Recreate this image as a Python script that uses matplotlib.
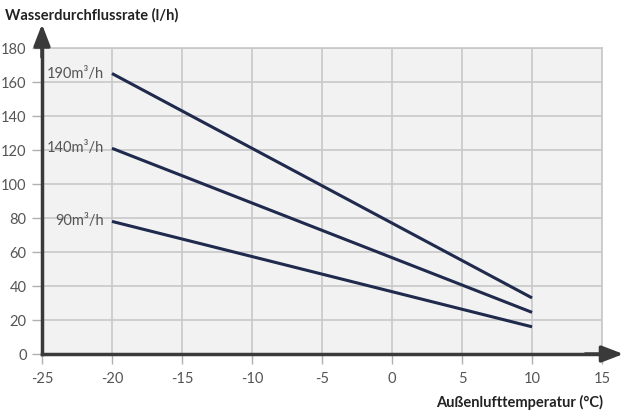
import matplotlib.pyplot as plt

# data
temps = [-20, 10]
flow_190 = [165, 33]
flow_140 = [121, 24.5]
flow_90 = [78, 16]
series_labels = ["190m³/h", "140m³/h", "90m³/h"]
x_ticks = [-25, -20, -15, -10, -5, 0, 5, 10, 15]
y_ticks = [0, 20, 40, 60, 80, 100, 120, 140, 160, 180]

plt.rcParams["font.family"] = ["Lato", "DejaVu Sans"]
plt.rcParams["axes.unicode_minus"] = False

fig = plt.figure(figsize=(6.23, 4.16), dpi=100)
ax = fig.add_axes([0.0674, 0.149, 0.899, 0.7356])
ax.set_facecolor("#f2f2f2")

ax.set_xlim(-25, 15)
ax.set_ylim(0, 180)
ax.set_xticks(x_ticks)
ax.set_yticks(y_ticks)
ax.grid(True, color="#c8c8c8", linewidth=1.2)
ax.set_axisbelow(True)

for s in ["top", "right"]:
    ax.spines[s].set_color("#c8c8c8")
    ax.spines[s].set_linewidth(1.2)
for s in ["left", "bottom"]:
    ax.spines[s].set_color("#3a3a3a")
    ax.spines[s].set_linewidth(2.5)

ax.tick_params(axis="both", length=7, width=1, color="#b0b0b0",
               labelcolor="#555555", labelsize=10.5)
ax.tick_params(axis="y", pad=4)
ax.tick_params(axis="x", pad=6)

line_color = "#1f2a4d"
for vals, lab in zip([flow_190, flow_140, flow_90], series_labels):
    ax.plot(temps, vals, color=line_color, linewidth=2.2, solid_capstyle="butt")
    ax.text(temps[0] - 0.6, vals[0], lab, ha="right", va="center",
            fontsize=10.5, color="#555555")

# axis arrows
arrow = dict(arrowstyle="-|>,head_length=1.3,head_width=0.5",
             color="#3a3a3a", lw=2.5, shrinkA=0, shrinkB=0)
ax.annotate("", xy=(0, 1.078), xytext=(0, 0.97), xycoords="axes fraction",
            arrowprops=arrow, annotation_clip=False)
ax.annotate("", xy=(1.038, 0), xytext=(0.97, 0), xycoords="axes fraction",
            arrowprops=arrow, annotation_clip=False)

fig.text(0.008, 0.963, "Wasserdurchflussrate (l/h)", ha="left", va="center",
         fontsize=10.5, fontweight="bold", color="#222222")
fig.text(0.968, 0.032, "Außenlufttemperatur (°C)", ha="right", va="center",
         fontsize=10.5, fontweight="bold", color="#222222")

fig.savefig("out.png", dpi=100)
